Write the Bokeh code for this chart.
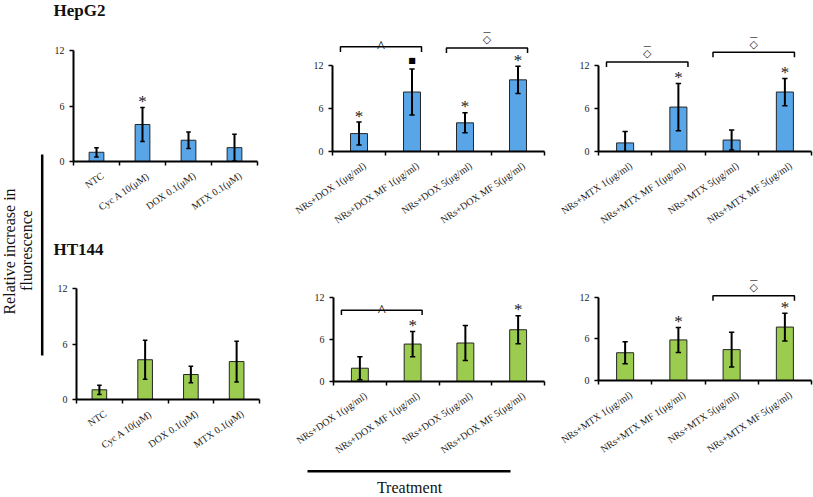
import numpy as np
from bokeh.plotting import figure
from bokeh.layouts import row, column
from bokeh.models import Range1d, FixedTicker, ColumnDataSource
from bokeh.core.properties import value
from bokeh.embed import file_html
from bokeh.resources import INLINE

# ---------------- data ----------------
ctrl_labels = ["NTC", "Cyc A 10(μM)", "DOX 0.1(μM)", "MTX 0.1(μM)"]
dox_labels = ["NRs+DOX 1(μg/ml)", "NRs+DOX MF 1(μg/ml)", "NRs+DOX 5(μg/ml)", "NRs+DOX MF 5(μg/ml)"]
mtx_labels = ["NRs+MTX 1(μg/ml)", "NRs+MTX MF 1(μg/ml)", "NRs+MTX 5(μg/ml)", "NRs+MTX MF 5(μg/ml)"]
y_ticks = [0, 6, 12]

hepg2_ctrl = [1.0, 4.0, 2.3, 1.5]
hepg2_ctrl_err = [0.5, 1.85, 0.9, 1.45]
hepg2_ctrl_marks = ["", "*", "", ""]
hepg2_dox = [2.5, 8.3, 4.0, 10.0]
hepg2_dox_err = [1.6, 3.2, 1.4, 1.9]
hepg2_dox_marks = ["*", "■", "*", "*"]
hepg2_mtx = [1.2, 6.2, 1.6, 8.3]
hepg2_mtx_err = [1.6, 3.3, 1.4, 1.9]
hepg2_mtx_marks = ["", "*", "", "*"]

ht144_ctrl = [1.05, 4.3, 2.7, 4.1]
ht144_ctrl_err = [0.5, 2.1, 0.9, 2.2]
ht144_ctrl_marks = ["", "", "", ""]
ht144_dox = [1.9, 5.35, 5.5, 7.4]
ht144_dox_err = [1.65, 1.8, 2.5, 2.0]
ht144_dox_marks = ["", "*", "", "*"]
ht144_mtx = [4.0, 5.85, 4.45, 7.7]
ht144_mtx_err = [1.6, 1.8, 2.5, 2.0]
ht144_mtx_marks = ["", "*", "", "*"]

# significance brackets: (first category, last category, level, symbol)
hepg2_ctrl_brackets = []
hepg2_dox_brackets = [(0, 1, 14.6, "^"), (2, 3, 14.45, "◇")]
hepg2_mtx_brackets = [(0, 1, 12.5, "◇"), (2, 3, 13.85, "◇")]
ht144_ctrl_brackets = []
ht144_dox_brackets = [(0, 1, 10.2, "^")]
ht144_mtx_brackets = [(2, 3, 12.2, "◇")]

row_titles = ["HepG2", "HT144"]
y_title = ["Relative increase in", "fluorescence"]
x_title = "Treatment"

# ---------------- style ----------------
SERIF = "Liberation Serif"
BLUE = "#58A6E8"
GREEN = "#9BCB4F"
LABEL_SHIFT_PX = 6


def panel(labels, vals, errs, marks, brackets, color, width, height,
          left, right, bottom, px12):
    n = len(labels)
    frame_h = height - bottom
    frame_w = width - left - right
    ymax = frame_h / px12 * 12
    p = figure(width=width, height=height, x_range=Range1d(0, n), y_range=Range1d(0, ymax),
               output_backend="svg", toolbar_location=None, frame_align=False,
               min_border_left=left, min_border_right=right, min_border_top=0,
               min_border_bottom=bottom)
    p.grid.visible = False
    p.outline_line_color = None

    xs = np.arange(n) + 0.5
    v = np.array(vals, dtype=float)
    e = np.array(errs, dtype=float)
    src = ColumnDataSource(dict(x=xs, top=v, lo=v - e, hi=v + e,
                                cl=xs - 0.05, cr=xs + 0.05))
    p.vbar(x="x", top="top", width=0.32, fill_color=color, line_color="#262626",
           line_width=1, source=src)
    p.segment(x0="x", y0="lo", x1="x", y1="hi", line_color="black", line_width=2, source=src)
    p.segment(x0="cl", y0="hi", x1="cr", y1="hi", line_color="black", line_width=1.5, source=src)
    p.segment(x0="cl", y0="lo", x1="cr", y1="lo", line_color="black", line_width=1.5, source=src)

    stars = [m if m == "*" else "" for m in marks]
    squares = [m if m == "■" else "" for m in marks]
    p.text(x=xs, y=v + e, text=stars, text_font=value(SERIF), text_font_size="17px",
           text_align="center", text_baseline="alphabetic", y_offset=-6, text_color="#222")
    p.text(x=xs, y=v + e, text=squares, text_font=value("DejaVu Sans"), text_font_size="8px",
           text_align="center", text_baseline="middle", y_offset=-9, text_color="black")

    # brackets
    drop = 0.7
    bx, by, mx, my, caret, diam = [], [], [], [], [], []
    for (i, j, lvl, sym) in brackets:
        x0 = xs[i] - 0.35
        x1 = xs[j] + 0.18
        bx.append([x0, x0, x1, x1])
        by.append([lvl - drop, lvl, lvl, lvl - drop])
        mx.append((x0 + x1) / 2)
        my.append(lvl)
        caret.append(sym if sym == "^" else "")
        diam.append(sym if sym == "◇" else "")
    if brackets:
        p.multi_line(xs=bx, ys=by, line_color="black", line_width=1.5)
        p.text(x=mx, y=my, text=caret, text_font=value(SERIF), text_font_size="17px",
               text_align="center", text_baseline="alphabetic",
               y_offset=0, text_color="#111")
        p.text(x=mx, y=my, text=diam, text_font=value("DejaVu Sans"), text_font_size="11px",
               text_align="center", text_baseline="middle", y_offset=-8, text_color="#222")
        p.text(x=mx, y=my, text=["—" if d else "" for d in diam], text_font=value("DejaVu Sans"),
               text_font_size="8px", text_align="center", text_baseline="middle",
               y_offset=-15, text_color="#222")

    # axes
    shift = LABEL_SHIFT_PX * n / frame_w
    lab_pos = [float(x + shift) for x in xs]
    xa = p.xaxis[0]
    xa.ticker = FixedTicker(ticks=lab_pos, minor_ticks=list(range(n + 1)))
    xa.major_label_overrides = {x: lab for x, lab in zip(lab_pos, labels)}
    xa.major_label_orientation = 0.6
    xa.major_tick_in = 0
    xa.major_tick_out = 0
    xa.minor_tick_in = 0
    xa.minor_tick_out = 4
    xa.minor_tick_line_color = "black"
    xa.minor_tick_line_width = 1.5
    xa.axis_line_width = 2
    xa.axis_line_color = "black"
    xa.major_label_text_font = SERIF
    xa.major_label_text_font_size = "10px"
    xa.major_label_text_color = "#222"
    xa.major_label_standoff = 9

    ya = p.yaxis[0]
    ya.ticker = FixedTicker(ticks=y_ticks)
    ya.bounds = (0, 12)
    ya.minor_tick_line_color = None
    ya.major_tick_in = 0
    ya.major_tick_out = 4
    ya.major_tick_line_width = 1.5
    ya.axis_line_width = 2
    ya.axis_line_color = "black"
    ya.major_label_text_font = SERIF
    ya.major_label_text_font_size = "10px"
    ya.major_label_text_color = "#222"
    ya.major_label_standoff = 5
    return p


def strip(width, height, texts, xs, ys, size, angle=0.0, style="normal", align="left"):
    s = figure(width=width, height=height, x_range=Range1d(0, width), y_range=Range1d(height, 0),
               output_backend="svg", toolbar_location=None, x_axis_location=None,
               y_axis_location=None, min_border=0, frame_align=False)
    s.grid.visible = False
    s.outline_line_color = None
    s.text(x=xs, y=ys, text=texts, angle=angle, text_font=value(SERIF), text_font_size=size,
           text_font_style=style, text_align=align, text_baseline="middle", text_color="#111")
    return s


f1 = panel(ctrl_labels, hepg2_ctrl, hepg2_ctrl_err, hepg2_ctrl_marks, hepg2_ctrl_brackets, BLUE,
           220, 216, 23, 13, 75, 111)
f2 = panel(dox_labels, hepg2_dox, hepg2_dox_err, hepg2_dox_marks, hepg2_dox_brackets, BLUE,
           276, 216, 62, 2, 85, 86)
f3 = panel(mtx_labels, hepg2_mtx, hepg2_mtx_err, hepg2_mtx_marks, hepg2_mtx_brackets, BLUE,
           267, 216, 52, 2, 85, 86)
f4 = panel(ctrl_labels, ht144_ctrl, ht144_ctrl_err, ht144_ctrl_marks, ht144_ctrl_brackets, GREEN,
           220, 204, 26, 11, 63, 111)
f5 = panel(dox_labels, ht144_dox, ht144_dox_err, ht144_dox_marks, ht144_dox_brackets, GREEN,
           276, 204, 63, 2, 78, 86)
f6 = panel(mtx_labels, ht144_mtx, ht144_mtx_err, ht144_mtx_marks, ht144_mtx_brackets, GREEN,
           267, 204, 52, 2, 78, 86)

t1 = strip(763, 20, [row_titles[0]], [3], [10], "17px", style="bold")
t2 = strip(763, 22, [row_titles[1]], [3], [12.5], "17px", style="bold")

# left strip: shared y label with its bar
lf = strip(50, 462, y_title, [8.5, 26], [251, 250], "16px", angle=np.pi / 2, align="center")
lf.line(x=[41.7, 41.7], y=[154, 355], line_color="black", line_width=2.5)

# bottom strip: shared x label with its bar
bf = strip(813, 35, [x_title], [409], [25], "16px", align="center")
bf.line(x=[307, 510], y=[8.7, 8.7], line_color="black", line_width=2.5)

layout = column(row(lf, column(t1, row(f1, f2, f3), t2, row(f4, f5, f6))), bf)

open("out.html", "w").write(file_html(layout, INLINE))
